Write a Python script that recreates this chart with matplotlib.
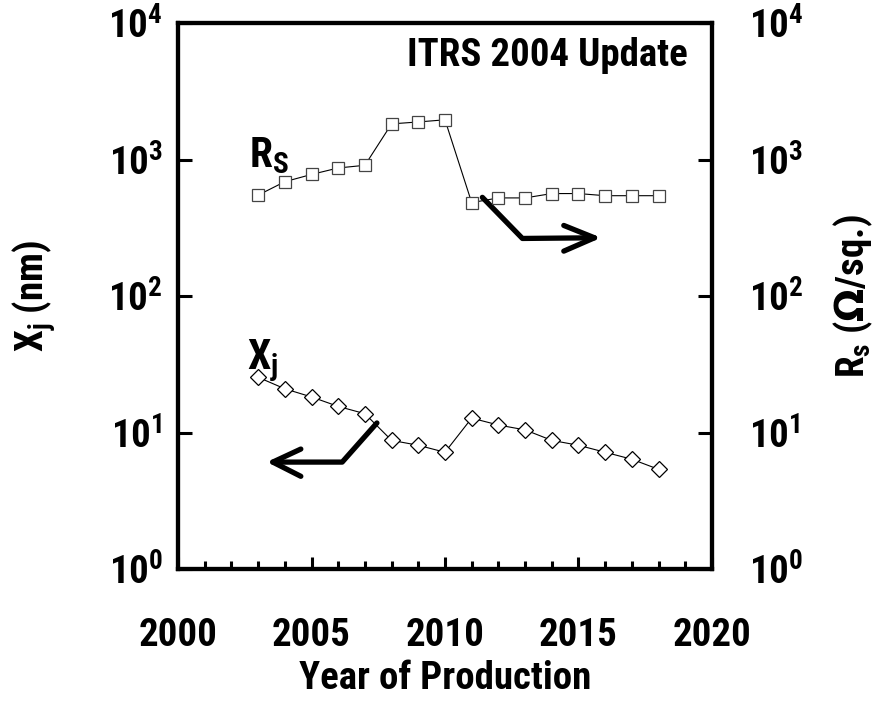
import numpy as np
import matplotlib
matplotlib.use("Agg")
import matplotlib.pyplot as plt
from matplotlib.ticker import FixedLocator, NullLocator

plt.rcParams['font.family'] = ['Roboto Condensed', 'Barlow Condensed', 'Liberation Sans', 'DejaVu Sans']
plt.rcParams['font.weight'] = 'bold'
plt.rcParams['mathtext.default'] = 'regular'

# ── Data ─────────────────────────────────────────────────────────────────────
years = [2003, 2004, 2005, 2006, 2007, 2008, 2009, 2010,
         2011, 2012, 2013, 2014, 2015, 2016, 2017, 2018]
rs_ohm_sq = [550, 690, 780, 870, 910, 1830, 1890, 1960,
             485, 525, 525, 565, 565, 545, 545, 545]
xj_nm = [25.5, 21, 18.3, 15.6, 13.8, 8.8, 8.1, 7.2,
         12.8, 11.4, 10.5, 8.8, 8.1, 7.2, 6.4, 5.4]

y_ticks = [1, 10, 100, 1000, 10000]
y_ticklabels = [r'10$^{0}$', r'10$^{1}$', r'10$^{2}$', r'10$^{3}$', r'10$^{4}$']
x_ticks = [2000, 2005, 2010, 2015, 2020]

FS = 28

# ── Figure ────────────────────────────────────────────────────────────────────
fig = plt.figure(figsize=(8.83, 7.02), dpi=100)
ax = fig.add_axes([0.2016, 0.189, 0.6047, 0.778])
ax2 = ax.twinx()

for a, pad in ((ax, 11), (ax2, 27)):
    a.set_yscale('log')
    a.set_ylim(1, 1e4)
    a.set_xlim(2000, 2020)
    a.yaxis.set_major_locator(FixedLocator(y_ticks))
    a.yaxis.set_minor_locator(NullLocator())
    a.set_yticklabels(y_ticklabels, fontsize=FS, fontweight='bold')
    a.tick_params(axis='y', direction='in', length=10, width=2.2, pad=pad)
    for s in a.spines.values():
        s.set_linewidth(3)

ax.set_xticks(x_ticks)
ax.set_xticklabels([str(t) for t in x_ticks], fontsize=FS, fontweight='bold')
ax.set_xticks(np.arange(2001, 2020), minor=True)
ax.tick_params(axis='x', which='major', direction='in', length=9, width=2.2, pad=34)
ax.tick_params(axis='x', which='minor', direction='in', length=6, width=2.2)

# series
ax.plot(years, xj_nm, color='black', lw=0.8, marker='D', markersize=8,
        markerfacecolor='white', markeredgecolor='black', markeredgewidth=0.9)
ax2.plot(years, rs_ohm_sq, color='black', lw=0.8, marker='s', markersize=9,
         markerfacecolor='white', markeredgecolor='#444444', markeredgewidth=0.9)

# pointer arrows (which axis each curve belongs to)
arrow_kw = dict(color='black', lw=3.8, solid_capstyle='round', solid_joinstyle='round')
ax.plot([2011.4, 2012.9, 2015.6], [530, 265, 268], **arrow_kw)
ax.plot([2014.45, 2015.6, 2014.45], [330, 268, 214], **arrow_kw)
ax.plot([2007.45, 2006.15, 2003.55], [11.8, 6.1, 6.1], **arrow_kw)
ax.plot([2004.6, 2003.55, 2004.6], [7.6, 6.1, 4.8], **arrow_kw)

# labels
ax.text(2002.65, 1080, r'R$_{S}$', fontsize=30, fontweight='bold', ha='left', va='center')
ax.text(2002.6, 34, r'X$_{j}$', fontsize=30, fontweight='bold', ha='left', va='center')
ax.text(0.955, 0.975, 'ITRS 2004 Update', transform=ax.transAxes, fontsize=28,
        fontweight='bold', ha='right', va='top')

ax.set_xlabel('Year of Production', fontsize=FS, fontweight='bold', labelpad=5)
ax.set_ylabel(r'X$_{j}$ (nm)', fontsize=FS, fontweight='bold', labelpad=36)
ax2.set_ylabel(r'R$_{s}$ ($\mathbf{\Omega}$/sq.)', fontsize=FS, fontweight='bold', labelpad=20)

fig.savefig('out.png', dpi=100)
